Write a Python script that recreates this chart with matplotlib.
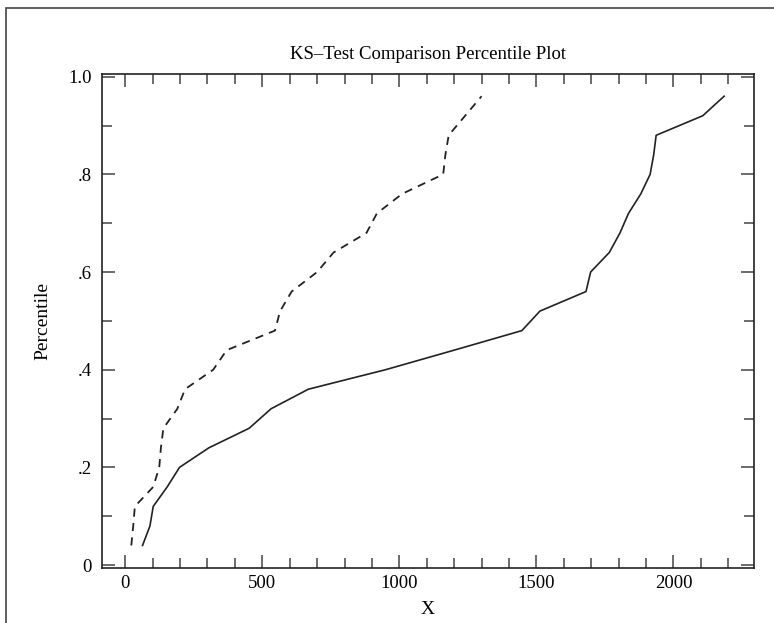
import numpy as np
import matplotlib; matplotlib.use('Agg'); import matplotlib.pyplot as plt
from matplotlib.patches import Rectangle

plt.rcParams['font.family'] = ['Liberation Serif', 'DejaVu Serif']

# percentile levels i/25 (both samples)
pct = [0.04, 0.08, 0.12, 0.16, 0.20, 0.24, 0.28, 0.32, 0.36, 0.40, 0.44, 0.48,
       0.52, 0.56, 0.60, 0.64, 0.68, 0.72, 0.76, 0.80, 0.84, 0.88, 0.92, 0.96]
# sample 1 (solid)
x_solid = [63, 90, 102, 153, 198, 305, 452, 532, 668, 950, 1200, 1447,
           1513, 1681, 1698, 1766, 1805, 1836, 1881, 1915, 1928, 1937, 2107, 2185]
# sample 2 (dashed)
x_dash = [22, 29, 35, 102, 124, 130, 139, 190, 218, 321, 370, 546,
          565, 607, 700, 760, 880, 918, 1010, 1160, 1168, 1180, 1240, 1300]

xticks = [0, 500, 1000, 1500, 2000]
yticks = [0, 0.2, 0.4, 0.6, 0.8, 1.0]
ylabels = ['0', '.2', '.4', '.6', '.8', '1.0']

W, H = 774, 623
fig = plt.figure(figsize=(W/100, H/100), dpi=100)
# outer frame of the page
fig.patches.append(Rectangle((6/W, -0.1), 1.2, (H-8)/H + 0.1, transform=fig.transFigure,
                             fill=False, ec='#444444', lw=1.2))
ax = fig.add_axes([101.7/W, (H-567.7)/H, (754-101.7)/W, (567.7-74)/H])

ax.plot(x_solid, pct, '-', color='#222222', lw=1.2)
ax.plot(x_dash, pct, '--', color='#222222', lw=1.3, dashes=(4.5, 3.5))

ax.set_xlim(-86, 2294); ax.set_ylim(-0.0055, 1.0055)
ax.set_xticks(xticks); ax.set_xticks(np.arange(-0, 2300, 100), minor=True)
ax.set_yticks(yticks); ax.set_yticklabels(ylabels)
ax.set_yticks(np.arange(0, 1.01, 0.1), minor=True)
ax.tick_params(which='both', direction='in', top=True, right=True, labelsize=13.5,
               color='#444444', width=1.1)
ax.tick_params(which='major', length=9.5)
ax.tick_params(which='minor', length=7)
ax.tick_params(axis='x', pad=5); ax.tick_params(axis='y', pad=7)
for s in ax.spines.values(): s.set_linewidth(1.2); s.set_color('#222222')

ax.set_title('KS\u2013Test Comparison Percentile Plot', fontsize=13.5, pad=11)
ax.set_xlabel('X', fontsize=14, labelpad=7)
ax.set_ylabel('Percentile', fontsize=14, labelpad=12)

fig.savefig('out.png', dpi=100)
